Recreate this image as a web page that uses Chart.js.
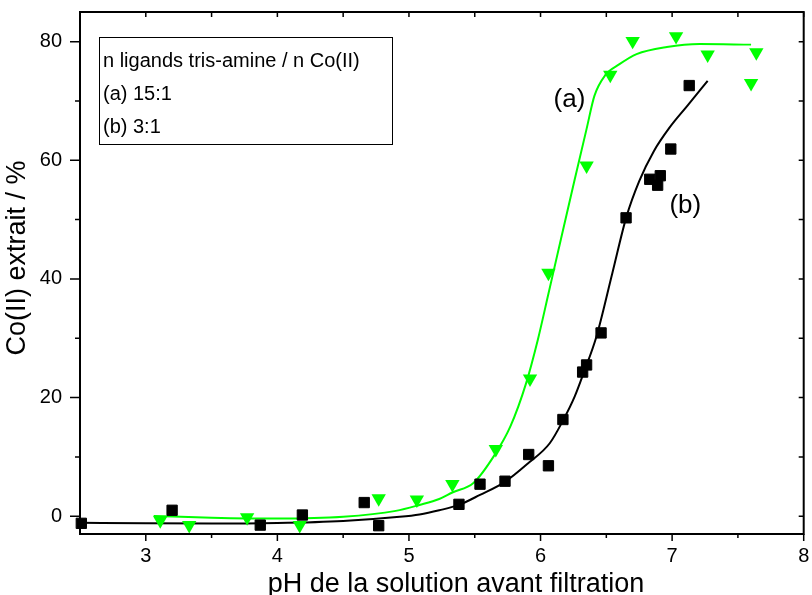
<!DOCTYPE html>
<html>
<head>
<meta charset="utf-8">
<script src="https://cdn.jsdelivr.net/npm/chart.js@4.4.1/dist/chart.umd.min.js"></script>
<style>
    html, body { margin: 0; padding: 0; background: #fff; }
    canvas { display: block; }
</style>
</head>
<body>
<canvas id="extractionChart" width="812" height="595"></canvas>
<script>
// (a) 15:1 - measured points
const phA  = [3.11, 3.33, 3.77, 4.17, 4.77, 5.06, 5.33, 5.66, 5.92, 6.06, 6.35, 6.53, 6.70, 7.03, 7.27, 7.64, 7.60];
const extA = [-0.7, -1.5, -0.2, -1.5, 3.0, 2.8, 5.4, 11.3, 23.2, 41.0, 59.1, 74.4, 80.1, 80.9, 77.8, 78.2, 73.0];

// (b) 3:1 - measured points
const phB  = [2.51, 3.20, 3.87, 4.19, 4.66, 4.77, 5.38, 5.54, 5.73, 5.91, 6.06, 6.17, 6.32, 6.35, 6.46, 6.65, 6.83, 6.91, 6.89, 6.99, 7.13];
const extB = [-1.2, 1.0, -1.5, 0.2, 2.3, -1.6, 2.0, 5.4, 5.9, 10.4, 8.5, 16.3, 24.3, 25.5, 30.9, 50.3, 56.8, 57.4, 55.8, 61.9, 72.6];

// fitted curves
const fitPhA = [3.06, 3.5, 4.0, 4.5, 4.9, 5.08, 5.23, 5.33, 5.49, 5.65, 5.77, 5.89, 5.98, 6.06, 6.16, 6.26, 6.35, 6.41, 6.49, 6.6, 6.73, 6.96, 7.21, 7.6];
const fitA   = [0.05, -0.25, -0.4, -0.1, 0.9, 1.9, 2.9, 4.0, 5.6, 10.3, 15.1, 22.4, 29.8, 37.5, 47.2, 56.8, 65.3, 70.9, 74.3, 76.2, 77.9, 79.1, 79.6, 79.5];
const fitPhB = [2.5, 3.0, 3.5, 4.0, 4.5, 4.93, 5.08, 5.23, 5.38, 5.54, 5.73, 5.91, 6.07, 6.17, 6.26, 6.33, 6.425, 6.546, 6.653, 6.75, 6.86, 6.98, 7.12, 7.27];
const fitB   = [-1.1, -1.2, -1.25, -1.15, -0.8, -0.1, 0.3, 1.0, 1.9, 3.6, 5.8, 9.0, 12.3, 16.1, 20.2, 24.3, 30.3, 41.0, 50.5, 56.5, 61.5, 65.5, 69.3, 73.4];

const xTicks = [3, 4, 5, 6, 7, 8];
const xMinorTicks = [3.5, 4.5, 5.5, 6.5, 7.5];
const yTicks = [0, 20, 40, 60, 80];
const yMinorTicks = [10, 30, 50, 70];

const legendLines = ['n ligands tris-amine / n Co(II)', '(a) 15:1', '(b) 3:1'];
const xTitle = 'pH de la solution avant filtration';
const yTitle = 'Co(II) extrait / %';

const FONT = '"Liberation Sans", Arial, sans-serif';
const GREEN = '#00ff00';

function toPoints(xs, ys) {
    return xs.map((x, i) => ({ x: x, y: ys[i] }));
}

// frame, ticks on all four sides, legend box, curve labels and axis titles
const decorations = {
    id: 'decorations',
    afterDraw(chart) {
        const { ctx, chartArea: a, scales: { x, y } } = chart;
        ctx.save();
        ctx.strokeStyle = '#000';
        ctx.fillStyle = '#000';

        ctx.lineWidth = 1.5;
        ctx.beginPath();
        xTicks.forEach(v => {
            const px = x.getPixelForValue(v);
            ctx.moveTo(px, a.bottom); ctx.lineTo(px, a.bottom + 7);
            ctx.moveTo(px, a.top); ctx.lineTo(px, a.top + 5);
        });
        xMinorTicks.forEach(v => {
            const px = x.getPixelForValue(v);
            ctx.moveTo(px, a.bottom); ctx.lineTo(px, a.bottom + 4);
            ctx.moveTo(px, a.top); ctx.lineTo(px, a.top + 5);
        });
        yTicks.forEach(v => {
            const py = y.getPixelForValue(v);
            ctx.moveTo(a.left - 10, py); ctx.lineTo(a.left, py);
            ctx.moveTo(a.right, py); ctx.lineTo(a.right - 5, py);
        });
        yMinorTicks.forEach(v => {
            const py = y.getPixelForValue(v);
            ctx.moveTo(a.left - 5, py); ctx.lineTo(a.left, py);
            ctx.moveTo(a.right, py); ctx.lineTo(a.right - 5, py);
        });
        ctx.stroke();

        ctx.lineWidth = 2;
        ctx.strokeRect(a.left, a.top, a.right - a.left, a.bottom - a.top);

        // legend box
        ctx.lineWidth = 1;
        ctx.strokeRect(a.left + 19.5, a.top + 25.5, 293, 107);
        ctx.font = '20px ' + FONT;
        ctx.textAlign = 'left';
        ctx.textBaseline = 'alphabetic';
        legendLines.forEach((t, i) => {
            ctx.fillText(t, a.left + 23, a.top + 54.7 + i * 33);
        });

        // curve labels
        ctx.font = '26px ' + FONT;
        ctx.textAlign = 'center';
        ctx.textBaseline = 'middle';
        ctx.fillText('(a)', x.getPixelForValue(6.22), y.getPixelForValue(70.2));
        ctx.fillText('(b)', x.getPixelForValue(7.10), y.getPixelForValue(52.3));

        // axis titles
        ctx.font = '27px ' + FONT;
        ctx.textBaseline = 'alphabetic';
        ctx.fillText(xTitle, a.left + 376, chart.height - 3);
        ctx.translate(25, a.top + 246);
        ctx.rotate(-Math.PI / 2);
        ctx.fillText(yTitle, 0, 0);
        ctx.restore();
    }
};

new Chart(document.getElementById('extractionChart'), {
    type: 'scatter',
    data: {
        datasets: [
            {
                label: '(b) 3:1',
                data: toPoints(phB, extB),
                pointStyle: 'rect',
                pointRadius: 7.3,
                pointBackgroundColor: '#000',
                pointBorderColor: '#000',
                pointBorderWidth: 1,
                clip: false
            },
            {
                label: '(a) 15:1',
                data: toPoints(phA, extA),
                pointStyle: 'triangle',
                pointRotation: 180,
                pointRadius: 8.3,
                pointBackgroundColor: GREEN,
                pointBorderWidth: 0,
                clip: false
            },
            {
                label: 'fit (a)',
                data: toPoints(fitPhA, fitA),
                showLine: true,
                borderColor: GREEN,
                borderWidth: 2,
                pointRadius: 0,
                cubicInterpolationMode: 'monotone'
            },
            {
                label: 'fit (b)',
                data: toPoints(fitPhB, fitB),
                showLine: true,
                borderColor: '#000',
                borderWidth: 2,
                pointRadius: 0,
                cubicInterpolationMode: 'monotone'
            }
        ]
    },
    options: {
        responsive: false,
        animation: false,
        layout: { padding: { top: 12, right: 7, left: 0, bottom: 0 } },
        plugins: {
            legend: { display: false },
            tooltip: { enabled: false }
        },
        scales: {
            x: {
                type: 'linear',
                min: 2.5,
                max: 8,
                grid: { display: false, drawTicks: false },
                border: { display: false },
                ticks: {
                    padding: 10,
                    maxRotation: 0,
                    autoSkip: false,
                    color: '#000',
                    font: { family: FONT, size: 20 }
                },
                afterBuildTicks: s => { s.ticks = xTicks.map(v => ({ value: v })); },
                afterFit: s => { s.height = 61; s.paddingLeft = 0; s.paddingRight = 0; }
            },
            y: {
                min: -3,
                max: 85,
                grid: { display: false, drawTicks: false },
                border: { display: false },
                ticks: {
                    padding: 18,
                    color: '#000',
                    font: { family: FONT, size: 20 }
                },
                afterBuildTicks: s => { s.ticks = yTicks.map(v => ({ value: v })); },
                afterFit: s => { s.width = 80; s.paddingTop = 0; s.paddingBottom = 0; }
            }
        }
    },
    plugins: [decorations]
});
</script>
</body>
</html>
